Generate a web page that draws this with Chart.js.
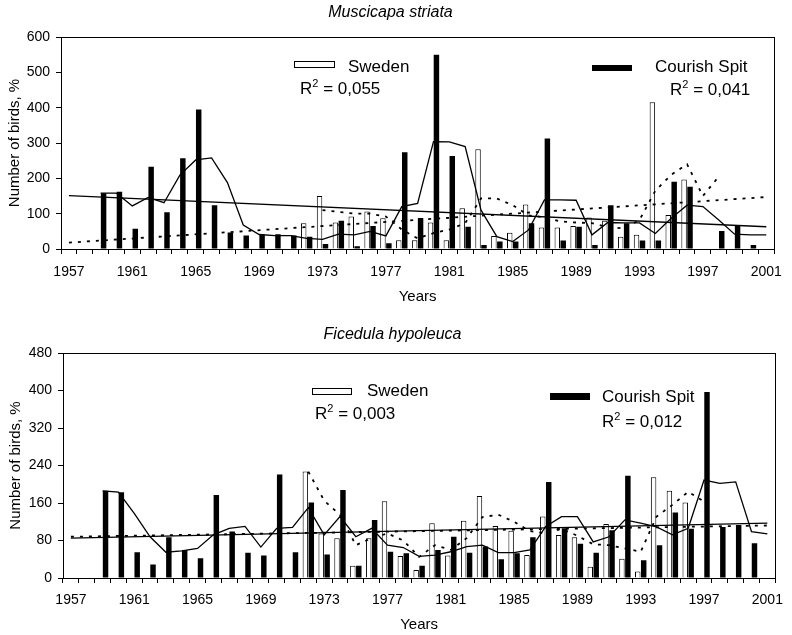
<!DOCTYPE html>
<html lang="en">
<head>
<meta charset="UTF-8">
<title>Muscicapa striata / Ficedula hypoleuca</title>
<script src="https://cdn.jsdelivr.net/npm/chart.js"></script>
<style>
    body { margin: 0; background: #fff; font-family: 'Liberation Sans', Arial, sans-serif; color: #000; }
    #page { position: relative; width: 792px; height: 635px; overflow: hidden; }
    .panel { position: absolute; left: 0; width: 792px; }
    .key { position: absolute; font-size: 17px; line-height: 20px; white-space: nowrap; }
    .key sup { font-size: 11px; line-height: 0; }
    .swatch { position: absolute; box-sizing: border-box; }
    .white { background: #fff; border: 1px solid #000; }
    .black { background: #000; }
</style>
</head>
<body>
<div id="page">
    <div class="panel" style="top:0;height:318px"><canvas id="striata"></canvas></div>
    <div class="panel" style="top:318px;height:317px"><canvas id="hypoleuca"></canvas></div>

    <!-- legends, top panel -->
    <div class="swatch white" style="left:294px;top:61px;width:41px;height:7px"></div>
    <div class="key" style="left:348px;top:57px">Sweden</div>
    <div class="key" style="left:300px;top:79px">R<sup>2</sup> = 0,055</div>
    <div class="swatch black" style="left:592px;top:65px;width:40px;height:6px"></div>
    <div class="key" style="left:655px;top:57px">Courish Spit</div>
    <div class="key" style="left:670px;top:80px">R<sup>2</sup> = 0,041</div>

    <!-- legends, bottom panel -->
    <div class="swatch white" style="left:312px;top:388px;width:40px;height:7px"></div>
    <div class="key" style="left:367px;top:381px">Sweden</div>
    <div class="key" style="left:315px;top:404px">R<sup>2</sup> = 0,003</div>
    <div class="swatch black" style="left:550px;top:393px;width:40px;height:7px"></div>
    <div class="key" style="left:602px;top:387px">Courish Spit</div>
    <div class="key" style="left:602px;top:412px">R<sup>2</sup> = 0,012</div>
</div>
<script>
const years = [1957, 1958, 1959, 1960, 1961, 1962, 1963, 1964, 1965, 1966,
               1967, 1968, 1969, 1970, 1971, 1972, 1973, 1974, 1975, 1976,
               1977, 1978, 1979, 1980, 1981, 1982, 1983, 1984, 1985, 1986,
               1987, 1988, 1989, 1990, 1991, 1992, 1993, 1994, 1995, 1996,
               1997, 1998, 1999, 2000, 2001];

// Muscicapa striata
const striataSweden = [null, null, null, null, null, null, null, null, null, null,
                       null, null, null, null, null, 73, 150, 75, 92, 106,
                       87, 25, 25, 75, 25, 115, 282, 37, 46, 126,
                       61, 61, 65, 89, 80, 35, 40, 415, 96, 197,
                       null, null, null, null, null];
const striataSpit = [null, null, 158, 162, 57, 233, 104, 257, 395, 124,
                     47, 38, 41, 42, 38, 35, 14, 80, 8, 65,
                     16, 274, 88, 550, 263, 63, 11, 21, 21, 73,
                     313, 24, 63, 11, 124, 73, 24, 24, 190, 176,
                     null, 51, 65, 11, null];
const striataSwedenAvg = [null, null, null, null, null, null, null, null, null, null,
                          null, null, null, null, null, null, 110, 105, 100, 100,
                          92, 55, 30, 45, 55, 73, 143, 143, 124, 95,
                          90, 78, 75, 73, 62, 58, 82, 165, 210, 240,
                          150, 205, null, null, null];
const striataSpitAvg = [null, null, 158, 158, 122, 146, 131, 209, 252, 258,
                        188, 68, 41, 38, 38, 30, 27, 42, 40, 50,
                        37, 120, 129, 304, 303, 290, 110, 35, 21, 54,
                        139, 139, 138, 40, 75, 74, 74, 44, 87, 124,
                        120, 82, 42, 40, 40];
const striataSwedenTrend = [18, 147];   // 1957, 2001
const striataSpitTrend = [151, 63];

// Ficedula hypoleuca
const hypoleucaSweden = [null, null, null, null, null, null, null, null, null, null,
                         null, null, null, null, null, 227, 95, 85, 26, 85,
                         164, 47, 17, 117, 48, 122, 175, 111, 101, 49,
                         131, 92, 87, 24, 115, 41, 14, 215, 186, 161,
                         null, null, null, null, null];
const hypoleucaSpit = [null, null, 186, 183, 55, 29, 87, 60, 42, 177,
                       99, 54, 48, 221, 55, 161, 50, 188, 26, 124,
                       56, 53, 26, 60, 88, 54, 67, 40, 53, 87,
                       205, 106, 73, 54, 102, 218, 38, 70, 140, 105,
                       397, 109, 113, 74, null];
const hypoleucaSwedenAvg = [null, null, null, null, null, null, null, null, null, null,
                            null, null, null, null, null, 227, 165, 135, 70, 85,
                            95, 80, 45, 70, 60, 85, 130, 135, 120, 100,
                            95, 105, 90, 72, 70, 63, 56, 131, 156, 184,
                            163, null, null, null, null];
const hypoleucaSpitAvg = [null, null, 186, 183, 138, 88, 55, 58, 63, 92,
                          106, 110, 66, 106, 108, 150, 92, 131, 88, 106,
                          70, 65, 46, 49, 56, 67, 70, 54, 54, 60,
                          110, 131, 131, 77, 88, 124, 117, 109, 92, 106,
                          209, 202, 205, 99, 94];
const hypoleucaSwedenTrend = [88, 112];
const hypoleucaSpitTrend = [85, 117];

Chart.defaults.font.family = "'Liberation Sans', Arial, sans-serif";
Chart.defaults.color = '#000';

// trend line: only end points, the line is drawn across the gap
function ends(pair) {
    const arr = years.map(() => null);
    arr[0] = pair[0];
    arr[arr.length - 1] = pair[1];
    return arr;
}

const frame = {
    id: 'frame',
    afterDraw(chart) {
        const { ctx, chartArea: a } = chart;
        ctx.save();
        ctx.strokeStyle = '#000';
        ctx.lineWidth = 1;
        ctx.strokeRect(Math.round(a.left) + 0.5, Math.round(a.top) + 0.5, Math.round(a.width), Math.round(a.height));
        ctx.restore();
    }
};

function lineSet(data, dotted, gaps) {
    return {
        type: 'line', data: data, borderColor: '#000',
        borderWidth: dotted ? 1.8 : 1.3,
        borderDash: dotted ? [3, 6] : [], pointRadius: 0, tension: 0,
        spanGaps: gaps, order: 0
    };
}

function panel(id, o) {
    return new Chart(document.getElementById(id), {
        type: 'bar',
        data: {
            labels: years,
            datasets: [
                lineSet(o.swedenAvg, true, false),
                lineSet(o.spitAvg, false, false),
                lineSet(ends(o.swedenTrend), true, true),
                lineSet(ends(o.spitTrend), false, true),
                { label: 'Sweden', data: o.sweden, backgroundColor: '#fff', borderColor: '#000', borderWidth: 1,
                  categoryPercentage: 0.75, barPercentage: 0.92, order: 1 },
                { label: 'Courish Spit', data: o.spit, backgroundColor: '#000',
                  categoryPercentage: 0.75, barPercentage: 0.92, order: 1 }
            ]
        },
        options: {
            responsive: true,
            maintainAspectRatio: false,
            animation: false,
            layout: { padding: { left: 0, right: o.padRight, top: 0, bottom: 0 } },
            plugins: {
                legend: { display: false },
                tooltip: { enabled: false },
                title: {
                    display: true, text: o.title, color: '#000',
                    font: { size: 16, style: 'italic', weight: 'normal' },
                    padding: { top: o.titleTop, bottom: o.titleBottom }
                }
            },
            scales: {
                x: {
                    grid: { offset: true, drawOnChartArea: false, tickLength: 5, color: '#000' },
                    border: { color: '#000' },
                    ticks: {
                        autoSkip: false, maxRotation: 0, minRotation: 0, padding: o.xTickPad,
                        font: { size: 14 },
                        callback: (v, i) => (years[i] - 1957) % 4 === 0 ? String(years[i]) : ''
                    },
                    title: { display: true, text: 'Years', font: { size: 15 }, padding: { top: 0, bottom: o.yearsPad } },
                    afterFit(s) { s.height = o.xHeight; }
                },
                y: {
                    min: 0, max: o.yMax,
                    ticks: { stepSize: o.yStep, padding: 6, font: { size: 14 } },
                    grid: { drawOnChartArea: false, tickLength: 5, color: '#000' },
                    border: { color: '#000' },
                    title: { display: true, text: 'Number of birds, %', font: { size: 15 }, padding: { top: o.yTitlePad, bottom: 0 } },
                    afterFit(s) { s.width = o.yWidth; }
                }
            }
        },
        plugins: [frame]
    });
}

panel('striata', {
    title: 'Muscicapa striata',
    sweden: striataSweden, spit: striataSpit,
    swedenAvg: striataSwedenAvg, spitAvg: striataSpitAvg,
    swedenTrend: striataSwedenTrend, spitTrend: striataSpitTrend,
    yMax: 600, yStep: 100,
    titleTop: 3.4, titleBottom: 14.4,
    xHeight: 69, xTickPad: 10, yearsPad: 12,
    yWidth: 61, yTitlePad: 6, padRight: 11
});

panel('hypoleuca', {
    title: 'Ficedula hypoleuca',
    sweden: hypoleucaSweden, spit: hypoleucaSpit,
    swedenAvg: hypoleucaSwedenAvg, spitAvg: hypoleucaSpitAvg,
    swedenTrend: hypoleucaSwedenTrend, spitTrend: hypoleucaSpitTrend,
    yMax: 480, yStep: 80,
    titleTop: 7.4, titleBottom: 8.4,
    xHeight: 57, xTickPad: 9, yearsPad: 1,
    yWidth: 63, yTitlePad: 7, padRight: 7
});
</script>
</body>
</html>
